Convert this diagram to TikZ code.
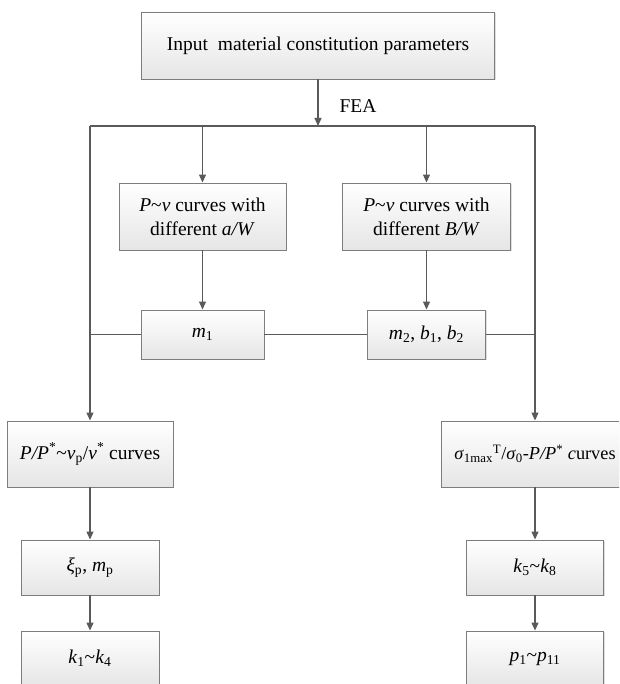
\documentclass[tikz,border=0pt]{standalone}
\usepackage{fontspec}
\setmainfont{Liberation Serif}
\usetikzlibrary{arrows.meta,positioning,shadows}
\definecolor{linegray}{RGB}{90,90,90}
\definecolor{boxgray}{RGB}{125,125,125}

\begin{document}
\begin{tikzpicture}[x=1pt,y=-1pt,>={Triangle[length=8pt,width=7pt]},line width=1.1pt,
        font=\fontsize{19.5}{24}\selectfont,
        blk/.style={draw=boxgray,line width=0.9pt,top color=white,bottom color=black!10,
            drop shadow={shadow xshift=1.2pt,shadow yshift=-1.2pt,opacity=0.25},
            align=center,inner sep=0pt,minimum height=67pt},
        small/.style={blk,minimum height=49pt},
        low/.style={blk,minimum height=55pt},
        flow/.style={draw=linegray,->}]

    \clip (0,0) rectangle (619,684);

    \node [blk,minimum width=353pt]                                 (top) at (318,45.5) {Input\ \ material constitution parameters};
    \node [blk,minimum width=167pt]                                 (a)   at (202.5,216.5) {\textit{P}\textasciitilde\textit{v} curves with\\different \textit{a/W}};
    \node [blk,minimum width=168pt,node distance=224pt,right of=a]   (b)   {\textit{P}\textasciitilde\textit{v} curves with\\different \textit{B/W}};
    \node [small,minimum width=123pt,node distance=118pt,below of=a] (m1)  {\textit{m}\textsubscript{1}};
    \node [small,minimum width=118pt,node distance=118pt,below of=b] (m2)  {\textit{m}\textsubscript{2}, \textit{b}\textsubscript{1}, \textit{b}\textsubscript{2}};
    \node [blk,minimum width=166pt,minimum height=66pt]             (pp)  at (90,454) {\textit{P/P}\textsuperscript{*}\textasciitilde\textit{v}\textsubscript{p}/\textit{v}\textsuperscript{*} curves};
    \node [blk,minimum width=188pt,minimum height=66pt,font=\fontsize{18.3}{22}\selectfont]
                                                                    (sig) at (535,454) {\textit{σ}\textsubscript{1max}\textsuperscript{T}/\textit{σ}\textsubscript{0}-\textit{P/P}\textsuperscript{*} \textit{c}urves};
    \node [low,minimum width=138pt,node distance=113.5pt,below of=pp]  (xi) {\textit{ξ}\textsubscript{p}, \textit{m}\textsubscript{p}};
    \node [low,minimum width=138pt,node distance=91pt,below of=xi]     (k1) {\textit{k}\textsubscript{1}\textasciitilde\textit{k}\textsubscript{4}};
    \node [low,minimum width=137pt,node distance=113.5pt,below of=sig] (k5) {\textit{k}\textsubscript{5}\textasciitilde\textit{k}\textsubscript{8}};
    \node [low,minimum width=137pt,node distance=91pt,below of=k5]     (p1) {\textit{p}\textsubscript{1}\textasciitilde\textit{p}\textsubscript{11}};

    \coordinate (hl) at (90,126);
    \coordinate (hr) at (535,126);

    % FEA split
    \draw [linegray] (hl) -- (hr);
    \draw [flow] (top) -- (top |- hl) node [pos=0.57,right=21pt,inner sep=0pt] {FEA};
    \draw [flow] (a.north |- hl) -- (a);
    \draw [flow] (b.north |- hl) -- (b);
    \draw [flow] (hl) -- (pp);
    \draw [flow] (hr) -- (sig);

    \draw [flow] (a) -- (m1);
    \draw [flow] (b) -- (m2);
    \draw [linegray] (m1.west) -- (m1.west -| hl);
    \draw [linegray] (m1) -- (m2);
    \draw [linegray] (m2.east) -- (m2.east -| hr);

    \draw [flow] (pp) -- (xi);
    \draw [flow] (xi) -- (k1);
    \draw [flow] (sig) -- (k5);
    \draw [flow] (k5) -- (p1);
\end{tikzpicture}
\end{document}
